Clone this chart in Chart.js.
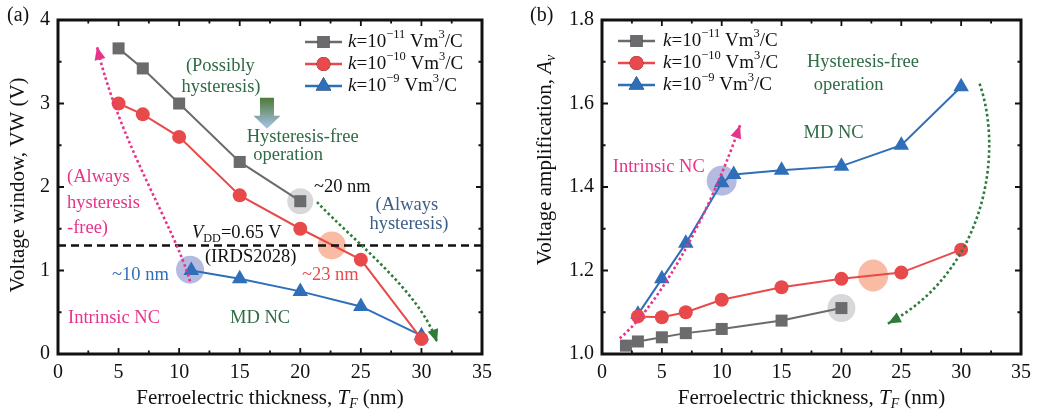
<!DOCTYPE html>
<html>
<head>
<meta charset="utf-8">
<script src="https://cdn.jsdelivr.net/npm/chart.js@4.4.1/dist/chart.umd.min.js"></script>
<style>
  html, body { margin: 0; padding: 0; background: #fff; }
  #wrap { position: relative; width: 1038px; height: 417px; }
  .panel { position: absolute; top: 0; height: 417px; }
  #pa { left: 0; width: 520px; }
  #pb { left: 520px; width: 518px; }
</style>
</head>
<body>
<div id="wrap">
  <div class="panel" id="pa"><canvas id="chartA"></canvas></div>
  <div class="panel" id="pb"><canvas id="chartB"></canvas></div>
</div>
<script>
// (a) voltage window vs ferroelectric thickness
var tfGrayA = [5, 7, 10, 15, 20];
var vwGray = [3.66, 3.42, 3.0, 2.3, 1.83];
var tfRedA = [5, 7, 10, 15, 20, 25, 30];
var vwRed = [3.0, 2.87, 2.6, 1.9, 1.5, 1.13, 0.18];
var tfBlueA = [11, 15, 20, 25, 30];
var vwBlue = [1.0, 0.9, 0.75, 0.57, 0.22];
var vddWindow = 1.3; // 2 x VDD
var xTicks = [0, 5, 10, 15, 20, 25, 30, 35];
var yTicksA = [0, 1, 2, 3, 4];

// (b) voltage amplification vs ferroelectric thickness
var tfGrayB = [2, 3, 5, 7, 10, 15, 20];
var avGray = [1.02, 1.03, 1.04, 1.05, 1.06, 1.08, 1.11];
var tfRedB = [3, 5, 7, 10, 15, 20, 25, 30];
var avRed = [1.09, 1.088, 1.1, 1.13, 1.16, 1.18, 1.195, 1.25];
var tfBlueB = [3, 5, 7, 10, 11, 15, 20, 25, 30];
var avBlue = [1.095, 1.18, 1.265, 1.41, 1.43, 1.44, 1.45, 1.5, 1.64];
var yTicksB = [1.0, 1.2, 1.4, 1.6, 1.8];

var GRAY = "#6b6b6e", RED = "#e84a4c", BLUE = "#2f6fb9";
var PINK = "#e8338a", GREEN = "#2f7a3c", DKGREEN = "#2f6b45", STEEL = "#3c5f88";
var SERIF = "'Liberation Serif', 'DejaVu Serif', serif";

function pts(xs, ys) {
  return xs.map(function (x, i) { return { x: x, y: ys[i] }; });
}

function series(xs, ys, color, shape, r) {
  return {
    data: pts(xs, ys),
    borderColor: color,
    backgroundColor: color,
    borderWidth: 2,
    pointStyle: shape,
    pointRadius: r,
    pointBorderWidth: 0,
    tension: 0
  };
}

// text with italic / sub / sup runs
function richText(ctx, parts, x, y, size, color, align) {
  var pieces = parts.map(function (p) {
    var s = typeof p === "string" ? { t: p } : p;
    var fs = s.sub || s.sup ? size * 0.66 : size;
    var font = (s.i ? "italic " : "") + fs + "px " + SERIF;
    ctx.font = font;
    return { t: s.t, font: font, w: ctx.measureText(s.t).width,
             dy: s.sub ? size * 0.3 : s.sup ? -size * 0.36 : 0 };
  });
  var total = pieces.reduce(function (a, p) { return a + p.w; }, 0);
  var cx = align === "center" ? x - total / 2 : align === "right" ? x - total : x;
  ctx.fillStyle = color;
  ctx.textBaseline = "middle";
  ctx.textAlign = "left";
  pieces.forEach(function (p) {
    ctx.font = p.font;
    ctx.fillText(p.t, cx, y + p.dy);
    cx += p.w;
  });
}

function kLabel(exp) {
  return [{ t: "k", i: true }, "=10", { t: exp, sup: true }, " Vm", { t: "3", sup: true }, "/C"];
}

function dottedArrow(ctx, sx, sy, c, color) {
  var p = c.map(function (q) { return [sx.getPixelForValue(q[0]), sy.getPixelForValue(q[1])]; });
  ctx.save();
  ctx.strokeStyle = color;
  ctx.fillStyle = color;
  ctx.lineWidth = 2.6;
  ctx.setLineDash([2.6, 2.6]);
  ctx.beginPath();
  ctx.moveTo(p[0][0], p[0][1]);
  ctx.bezierCurveTo(p[1][0], p[1][1], p[2][0], p[2][1], p[3][0], p[3][1]);
  ctx.stroke();
  ctx.setLineDash([]);
  var a = Math.atan2(p[3][1] - p[2][1], p[3][0] - p[2][0]);
  var L = 13, W = 5.5, tx = p[3][0], ty = p[3][1];
  ctx.beginPath();
  ctx.moveTo(tx, ty);
  ctx.lineTo(tx - L * Math.cos(a) + W * Math.sin(a), ty - L * Math.sin(a) - W * Math.cos(a));
  ctx.lineTo(tx - L * Math.cos(a) - W * Math.sin(a), ty - L * Math.sin(a) + W * Math.cos(a));
  ctx.closePath();
  ctx.fill();
  ctx.restore();
}

function spot(ctx, sx, sy, x, y, rx, ry, color) {
  ctx.beginPath();
  ctx.ellipse(sx.getPixelForValue(x), sy.getPixelForValue(y), rx, ry, 0, 0, Math.PI * 2);
  ctx.fillStyle = color;
  ctx.fill();
}

function note(ctx, sx, sy, x, y, parts, color, align) {
  richText(ctx, parts, sx.getPixelForValue(x), sy.getPixelForValue(y), 18.5, color, align);
}

function framePlugin(cfg) {
  return {
    id: "frame",
    beforeDatasetsDraw: function (chart) {
      var ctx = chart.ctx, sx = chart.scales.x, sy = chart.scales.y;
      ctx.save();
      cfg.spots.forEach(function (s) { spot(ctx, sx, sy, s[0], s[1], s[2], s[3], s[4]); });
      ctx.restore();
    },
    afterDraw: function (chart) {
      var ctx = chart.ctx, a = chart.chartArea, sx = chart.scales.x, sy = chart.scales.y;
      ctx.save();
      // arrows and notes
      cfg.arrows.forEach(function (ar) { dottedArrow(ctx, sx, sy, ar[0], ar[1]); });
      if (cfg.extra) cfg.extra(ctx, sx, sy);
      cfg.notes.forEach(function (n) { note(ctx, sx, sy, n[0], n[1], n[2], n[3], n[4]); });

      // box with inward ticks on all four sides
      ctx.strokeStyle = "#111";
      ctx.lineWidth = 1.8;
      ctx.setLineDash([]);
      var major = 6, minor = 3.5;
      function tickX(v, len) {
        var px = sx.getPixelForValue(v);
        ctx.beginPath();
        ctx.moveTo(px, a.bottom); ctx.lineTo(px, a.bottom - len);
        ctx.moveTo(px, a.top); ctx.lineTo(px, a.top + len);
        ctx.stroke();
      }
      function tickY(v, len) {
        var py = sy.getPixelForValue(v);
        ctx.beginPath();
        ctx.moveTo(a.left, py); ctx.lineTo(a.left + len, py);
        ctx.moveTo(a.right, py); ctx.lineTo(a.right - len, py);
        ctx.stroke();
      }
      for (var i = 0; i < xTicks.length; i++) {
        tickX(xTicks[i], major);
        if (i < xTicks.length - 1) tickX((xTicks[i] + xTicks[i + 1]) / 2, minor);
      }
      for (var j = 0; j < cfg.yTicks.length; j++) {
        tickY(cfg.yTicks[j], major);
        if (j < cfg.yTicks.length - 1) tickY((cfg.yTicks[j] + cfg.yTicks[j + 1]) / 2, minor);
      }
      ctx.lineWidth = 3;
      ctx.strokeRect(a.left, a.top, a.right - a.left, a.bottom - a.top);

      // axis titles
      richText(ctx, ["Ferroelectric thickness, ", { t: "T", i: true }, { t: "F", i: true, sub: true }, " (nm)"],
               (a.left + a.right) / 2, 398, 21, "#111", "center");
      ctx.save();
      ctx.translate(cfg.yTitleX, cfg.yTitleY);
      ctx.rotate(-Math.PI / 2);
      richText(ctx, cfg.yTitle, 0, 0, 21, "#111", "center");
      ctx.restore();
      richText(ctx, [cfg.tag], cfg.tagX, 16, 20, "#111", "left");

      // legend
      var L = cfg.legend;
      L.rows.forEach(function (r, k) {
        var y = L.y + k * 22;
        ctx.strokeStyle = r.color;
        ctx.lineWidth = 2.4;
        ctx.beginPath();
        ctx.moveTo(L.x0, y); ctx.lineTo(L.x1, y);
        ctx.stroke();
        Chart.helpers.drawPoint(ctx, { pointStyle: r.shape, radius: r.r, borderWidth: 0 }, (L.x0 + L.x1) / 2, y);
        ctx.fillStyle = r.color;
        ctx.fill();
        richText(ctx, r.label, L.tx, y, 19, "#111", "left");
      });
      ctx.restore();
    }
  };
}

function makeChart(id, datasets, yMin, yMax, yAxisWidth, padRight, plugin) {
  return new Chart(document.getElementById(id), {
    type: "line",
    data: { datasets: datasets },
    options: {
      responsive: true,
      maintainAspectRatio: false,
      animation: false,
      layout: { padding: { top: 13, right: padRight, left: 0, bottom: 0 } },
      plugins: { legend: { display: false }, tooltip: { enabled: false } },
      scales: {
        x: {
          type: "linear", min: 0, max: 35,
          afterBuildTicks: function (s) { s.ticks = xTicks.map(function (v) { return { value: v }; }); },
          afterFit: function (s) { s.height = 63; },
          grid: { display: false, drawTicks: false },
          border: { display: false },
          ticks: { padding: 7, color: "#111", font: { family: SERIF, size: 20 }, maxRotation: 0 }
        },
        y: {
          type: "linear", min: yMin, max: yMax,
          afterBuildTicks: function (s) { s.ticks = plugin.yTicks.map(function (v) { return { value: v }; }); },
          afterFit: function (s) { s.width = yAxisWidth; },
          grid: { display: false, drawTicks: false },
          border: { display: false },
          ticks: {
            padding: 8, color: "#111", font: { family: SERIF, size: 20 },
            callback: function (v) { return plugin.yFmt(v); }
          }
        }
      }
    },
    plugins: [framePlugin(plugin)]
  });
}

var vddLine = {
  data: [{ x: 0, y: vddWindow }, { x: 35, y: vddWindow }],
  borderColor: "#111", borderWidth: 2.4, borderDash: [8, 5], pointRadius: 0
};

makeChart("chartA", [
  vddLine,
  series(tfGrayA, vwGray, GRAY, "rect", 8.5),
  series(tfRedA, vwRed, RED, "circle", 7),
  series(tfBlueA, vwBlue, BLUE, "triangle", 9)
], 0, 4, 58, 38, {
  yTicks: yTicksA,
  yFmt: function (v) { return String(v); },
  yTitle: ["Voltage window, VW (V)"],
  yTitleX: 18, yTitleY: 185,
  tag: "(a)", tagX: 7,
  legend: {
    x0: 305, x1: 342, tx: 348, y: 42,
    rows: [
      { color: GRAY, shape: "rect", r: 8.5, label: kLabel("\u221211") },
      { color: RED, shape: "circle", r: 7, label: kLabel("\u221210") },
      { color: BLUE, shape: "triangle", r: 9, label: kLabel("\u22129") }
    ]
  },
  spots: [
    [20, 1.83, 13, 13, "rgba(200,200,202,0.7)"],
    [22.6, 1.3, 14, 14, "rgba(247,170,140,0.8)"],
    [10.9, 1.01, 14, 14, "rgba(120,130,200,0.55)"]
  ],
  arrows: [
    [[[10.9, 0.87], [9.66, 1.51], [5.12, 2.51], [3.22, 3.68]], PINK],
    [[[21.38, 1.82], [24.52, 1.337], [29.88, 0.75], [31.29, 0.14]], GREEN]
  ],
  extra: function (ctx, sx, sy) {
    // shaded down arrow
    var cx = sx.getPixelForValue(17.25), top = sy.getPixelForValue(3.07);
    var g = ctx.createLinearGradient(0, top, 0, top + 31);
    g.addColorStop(0, "#4c7a37");
    g.addColorStop(1, "#a9c3ea");
    ctx.fillStyle = g;
    ctx.beginPath();
    ctx.moveTo(cx - 7, top); ctx.lineTo(cx + 7, top); ctx.lineTo(cx + 7, top + 18);
    ctx.lineTo(cx + 13.5, top + 18); ctx.lineTo(cx, top + 31); ctx.lineTo(cx - 13.5, top + 18);
    ctx.lineTo(cx - 7, top + 18); ctx.closePath();
    ctx.fill();
  },
  notes: [
    [13.4, 3.45, ["(Possibly"], DKGREEN, "center"],
    [13.45, 3.19, ["hysteresis)"], DKGREEN, "center"],
    [20.2, 2.6, ["Hysteresis-free"], DKGREEN, "center"],
    [19.0, 2.38, ["operation"], DKGREEN, "center"],
    [21.13, 2.0, ["~20 nm"], "#111", "left"],
    [28.8, 1.78, ["(Always"], STEEL, "center"],
    [28.97, 1.55, ["hysteresis)"], STEEL, "center"],
    [0.74, 2.12, ["(Always"], PINK, "left"],
    [0.74, 1.81, ["hysteresis"], PINK, "left"],
    [0.74, 1.51, ["-free)"], PINK, "left"],
    [11.06, 1.45, [{ t: "V", i: true }, { t: "DD", sub: true }, "=0.65 V"], "#111", "left"],
    [12.13, 1.16, ["(IRDS2028)"], "#111", "left"],
    [4.46, 0.95, ["~10 nm"], BLUE, "left"],
    [20.14, 0.95, ["~23 nm"], RED, "left"],
    [0.83, 0.43, ["Intrinsic NC"], PINK, "left"],
    [14.2, 0.43, ["MD NC"], DKGREEN, "left"]
  ]
});

makeChart("chartB", [
  series(tfGrayB, avGray, GRAY, "rect", 8.5),
  series(tfRedB, avRed, RED, "circle", 7),
  series(tfBlueB, avBlue, BLUE, "triangle", 9)
], 1.0, 1.8, 82, 11, {
  yTicks: yTicksB,
  yFmt: function (v) { return v.toFixed(1); },
  yTitle: ["Voltage amplification, ", { t: "A", i: true }, { t: "v", i: true, sub: true }],
  yTitleX: 25, yTitleY: 160,
  tag: "(b)", tagX: 10,
  legend: {
    x0: 98, x1: 135, tx: 143, y: 41,
    rows: [
      { color: GRAY, shape: "rect", r: 8.5, label: kLabel("\u221211") },
      { color: RED, shape: "circle", r: 7, label: kLabel("\u221210") },
      { color: BLUE, shape: "triangle", r: 9, label: kLabel("\u22129") }
    ]
  },
  spots: [
    [10, 1.415, 15, 15, "rgba(120,130,200,0.55)"],
    [22.65, 1.188, 15, 16, "rgba(247,170,140,0.8)"],
    [20, 1.11, 14, 14, "rgba(200,200,202,0.7)"]
  ],
  arrows: [
    [[[1.48, 1.0375], [5.19, 1.127], [9.31, 1.361], [11.53, 1.548]], PINK],
    [[[31.54, 1.6475], [33.6, 1.478], [31.95, 1.197], [23.88, 1.073]], GREEN]
  ],
  notes: [
    [21.8, 1.70, ["Hysteresis-free"], DKGREEN, "center"],
    [20.6, 1.643, ["operation"], DKGREEN, "center"],
    [19.35, 1.53, ["MD NC"], DKGREEN, "center"],
    [0.9, 1.448, ["Intrinsic NC"], PINK, "left"]
  ]
});
</script>
</body>
</html>
